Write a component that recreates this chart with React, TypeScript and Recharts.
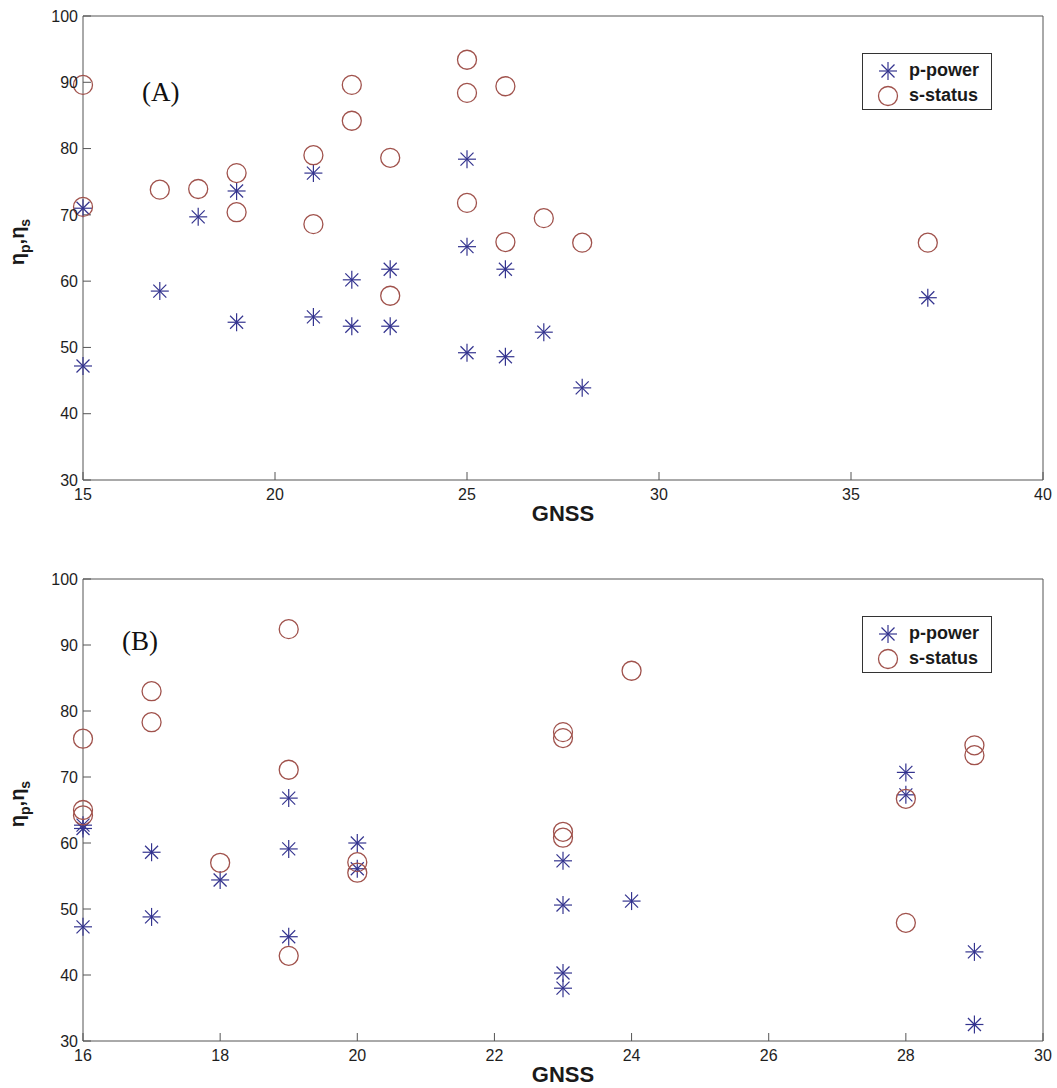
import { Label, Legend, Scatter, ScatterChart, XAxis, YAxis } from "recharts"

// panel (A)
const gnssA = [15, 15, 17, 18, 19, 19, 21, 21, 22, 22, 23, 23, 25, 25, 25, 26, 26, 27, 28, 37]
const powerA = [71.0, 47.2, 58.5, 69.7, 73.6, 53.8, 76.3, 54.6, 60.2, 53.2, 61.8, 53.2, 78.4, 65.2, 49.2, 61.8, 48.6, 52.3, 43.9, 57.5]
const statusA = [89.6, 71.2, 73.8, 73.9, 76.3, 70.4, 79.0, 68.6, 89.6, 84.2, 78.6, 57.8, 93.4, 88.4, 71.8, 89.4, 65.9, 69.5, 65.8, 65.8]
const xTicksA = [15, 20, 25, 30, 35, 40]

// panel (B)
const gnssB = [16, 16, 16, 17, 17, 18, 19, 19, 19, 20, 20, 23, 23, 23, 23, 24, 28, 28, 29, 29]
const powerB = [62.7, 62.2, 47.3, 58.6, 48.8, 54.4, 66.8, 59.1, 45.8, 60.0, 56.1, 57.3, 50.6, 40.3, 38.0, 51.2, 70.7, 67.3, 43.5, 32.5]
const statusB = [75.8, 65.0, 64.2, 83.0, 78.3, 57.0, 92.4, 71.1, 42.9, 57.1, 55.5, 76.8, 75.9, 61.7, 60.8, 86.1, 66.7, 47.9, 74.8, 73.3]
const xTicksB = [16, 18, 20, 22, 24, 26, 28, 30]

const yTicks = [30, 40, 50, 60, 70, 80, 90, 100]

const STAR = "#34348f"
const RING = "#a0524c"
const AXIS = "#555"
const FONT = "'Liberation Sans', Arial, sans-serif"

const Star = ({ cx, cy }: any) => (
  <g stroke={STAR} strokeWidth={1.2}>
    <line x1={cx - 9} y1={cy} x2={cx + 9} y2={cy} />
    <line x1={cx} y1={cy - 9} x2={cx} y2={cy + 9} />
    <line x1={cx - 6.5} y1={cy - 6.5} x2={cx + 6.5} y2={cy + 6.5} />
    <line x1={cx - 6.5} y1={cy + 6.5} x2={cx + 6.5} y2={cy - 6.5} />
  </g>
)

const Ring = ({ cx, cy }: any) => <circle cx={cx} cy={cy} r={9.5} fill="none" stroke={RING} strokeWidth={1.3} />

const LegendBox = ({ payload }: any) => (
  <div style={{ width: 130, height: 57, boxSizing: "border-box", border: "1px solid #333", background: "#fff", padding: "4px 0 0 14px", fontFamily: FONT, fontWeight: "bold", fontSize: 18, color: "#1a1a1a" }}>
    {(payload || []).map((entry: any) => (
      <div key={entry.value} style={{ display: "flex", alignItems: "center", height: 25 }}>
        <svg width={22} height={22} style={{ marginRight: 10 }}>
          {entry.value === "p-power" ? <Star cx={11} cy={11} /> : <Ring cx={11} cy={11} />}
        </svg>
        <span>{entry.value}</span>
      </div>
    ))}
  </div>
)

const YTitle = ({ viewBox }: any) => {
  const cy = viewBox.y + viewBox.height / 2 - 6
  return (
    <text x={24} y={cy} transform={`rotate(-90, 24, ${cy})`} textAnchor="middle" fontFamily={FONT} fontWeight="bold" fontSize={20} fill="#1a1a1a">
      η<tspan fontSize={14} dy={6}>p</tspan>
      <tspan dy={-6}>,η</tspan>
      <tspan fontSize={14} dy={6}>s</tspan>
    </text>
  )
}

const XTitle = ({ viewBox }: any) => (
  <text x={viewBox.x + viewBox.width / 2} y={viewBox.y + 41} textAnchor="middle" fontFamily={FONT} fontWeight="bold" fontSize={22} fill="#1a1a1a">
    GNSS
  </text>
)

type PanelProps = {
  gnss: number[]
  power: number[]
  status: number[]
  xTicks: number[]
  tag: string
  top: number
  height: number
  marginTop: number
  xHeight: number
  tagX: number
  tagY: number
}

const tick = { fill: "#1e1e1e", fontSize: 16, fontFamily: FONT }

const Panel = ({ gnss, power, status, xTicks, tag, top, height, marginTop, xHeight, tagX, tagY }: PanelProps) => {
  const pData = gnss.map((x, i) => ({ x, y: power[i] }))
  const sData = gnss.map((x, i) => ({ x, y: status[i] }))
  const xDomain = [xTicks[0], xTicks[xTicks.length - 1]]
  return (
    <div style={{ position: "absolute", left: 0, top, width: 1057, height }}>
      <ScatterChart width={1057} height={height} margin={{ top: marginTop, right: 13, left: 0, bottom: 0 }}>
        <XAxis xAxisId="b" type="number" dataKey="x" domain={xDomain} ticks={xTicks} interval={0} height={xHeight}
          tickSize={-8} tickMargin={17} tick={tick} axisLine={{ stroke: AXIS }} tickLine={{ stroke: AXIS }}>
          <Label content={<XTitle />} />
        </XAxis>
        <XAxis xAxisId="t" orientation="top" type="number" dataKey="x" domain={xDomain} ticks={xTicks} interval={0} allowDataOverflow height={1}
          tickSize={-8} tick={false} axisLine={{ stroke: AXIS }} tickLine={{ stroke: AXIS }} />
        <YAxis yAxisId="l" type="number" dataKey="y" domain={[30, 100]} ticks={yTicks} interval={0} width={83}
          tickSize={-8} tickMargin={13} tick={tick} axisLine={{ stroke: AXIS }} tickLine={{ stroke: AXIS }}>
          <Label content={<YTitle />} />
        </YAxis>
        <YAxis yAxisId="r" orientation="right" type="number" dataKey="y" domain={[30, 100]} ticks={yTicks} interval={0} allowDataOverflow width={1}
          tickSize={-8} tick={false} axisLine={{ stroke: AXIS }} tickLine={{ stroke: AXIS }} />
        <Scatter name="p-power" xAxisId="b" yAxisId="l" data={pData} shape={(p: any) => <Star cx={p.cx} cy={p.cy} />} isAnimationActive={false} />
        <Scatter name="s-status" xAxisId="b" yAxisId="l" data={sData} shape={(p: any) => <Ring cx={p.cx} cy={p.cy} />} isAnimationActive={false} />
        <Legend layout="vertical" align="center" verticalAlign="middle" content={<LegendBox />}
          wrapperStyle={{ left: 862, top: marginTop + 38, width: 130 }} />
      </ScatterChart>
      <div style={{ position: "absolute", left: tagX, top: tagY, fontFamily: "'Liberation Serif', 'Times New Roman', serif", fontSize: 27, lineHeight: 1, color: "#111" }}>
        {tag}
      </div>
    </div>
  )
}

export default function App() {
  return (
    <div style={{ position: "absolute", left: 0, top: 0, width: 1057, height: 1088, background: "#fff" }}>
      <Panel gnss={gnssA} power={powerA} status={statusA} xTicks={xTicksA} tag="(A)" top={0} height={540} marginTop={15} xHeight={60} tagX={142} tagY={79} />
      <Panel gnss={gnssB} power={powerB} status={statusB} xTicks={xTicksB} tag="(B)" top={560} height={528} marginTop={18} xHeight={47} tagX={122} tagY={68} />
    </div>
  )
}
